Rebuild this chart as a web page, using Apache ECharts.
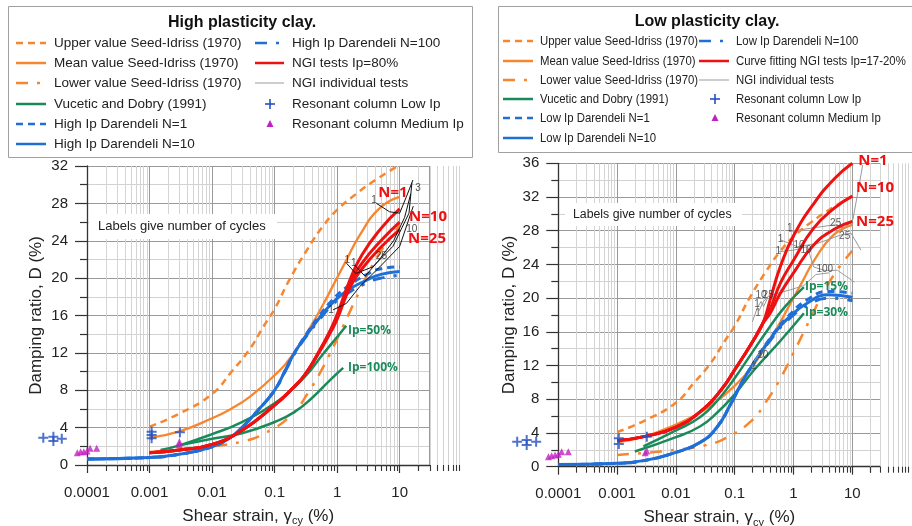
<!DOCTYPE html>
<html><head><meta charset="utf-8">
<script src="https://cdn.jsdelivr.net/npm/echarts@6/dist/echarts.min.js"></script>
<style>html,body{margin:0;padding:0;background:#fff}#c{width:912px;height:526px}</style>
</head><body><div id="c"></div>
<script>
// ================= DATA =================
const xTickLabels = ['0.0001', '0.001', '0.01', '0.1', '1', '10'];
const decades = [0.0001, 0.001, 0.01, 0.1, 1, 10];
const minorMultipliers = [2, 3, 4, 5, 6, 7, 8, 9];
const yMaxHigh = 32, yMaxLow = 36;

// Seed-Idriss (1970) – same in both panels
const siUpper = [[0.001,4.1],[0.003,5.5],[0.01,7.6],[0.02,9.9],[0.04,12.4],[0.066,14.8],[0.1,16.7],[0.175,19.9],[0.35,23.3],[0.6,25.6],[1,27.3],[2,29.0],[4.3,30.6],[10,32.1]];
const siMean  = [[0.001,2.9],[0.003,3.6],[0.01,5.0],[0.02,6.0],[0.04,7.3],[0.1,9.6],[0.2,11.9],[0.36,14.6],[0.6,17.2],[0.86,19.2],[1.4,21.9],[2.3,24.6],[4.8,27.5],[10,28.7]];
const siLower = [[0.001,1.4],[0.003,1.65],[0.01,2.0],[0.03,2.5],[0.07,3.4],[0.19,5.4],[0.34,7.7],[0.6,10.5],[1,13.5],[2,17.8],[3.3,20.8],[6,23.7],[10,25.6]];

// High plasticity clay
const hiVD50  = [[0.0015,1.6],[0.003,2.1],[0.01,3.3],[0.03,4.6],[0.1,6.6],[0.3,9.4],[0.6,11.9],[1,13.7],[1.4,14.9]];
const hiVD100 = [[0.003,2.1],[0.01,2.8],[0.03,3.4],[0.1,4.6],[0.2,5.6],[0.4,7.2],[0.8,9.2],[1.25,10.4]];
const hiDar1   = [[0.0001,0.64],[0.001,0.8],[0.003,1.15],[0.01,1.95],[0.02,3.0],[0.03,4.0],[0.05,5.6],[0.1,8.0],[0.15,10.2],[0.2,11.8],[0.3,13.7],[0.5,15.8],[0.8,17.5],[1.4,19.0],[3,20.4],[5,21.0],[10,21.2]];
const hiDar10  = [[0.0001,0.64],[0.001,0.8],[0.003,1.15],[0.01,1.95],[0.02,3.0],[0.03,4.0],[0.05,5.6],[0.1,8.0],[0.15,10.2],[0.2,11.8],[0.3,13.6],[0.5,15.6],[0.8,17.2],[1.4,18.6],[3,19.8],[5,20.4],[10,20.7]];
const hiDar100 = [[0.0001,0.64],[0.001,0.8],[0.003,1.15],[0.01,1.95],[0.02,3.0],[0.03,4.0],[0.05,5.6],[0.1,8.0],[0.15,10.1],[0.2,11.7],[0.3,13.5],[0.5,15.4],[0.8,17.0],[1.4,18.3],[3,19.5],[5,20.0],[10,20.3]];
const hiNGI1  = [[0.001,1.3],[0.003,1.6],[0.01,2.2],[0.03,3.7],[0.1,6.4],[0.2,8.3],[0.3,9.6],[0.5,12.0],[0.8,14.6],[1,16.1],[1.6,19.8],[2.5,22.5],[5,25.3],[10,27.4]];
const hiNGI10 = [[0.001,1.3],[0.003,1.6],[0.01,2.2],[0.03,3.7],[0.1,6.4],[0.2,8.3],[0.3,9.6],[0.5,12.0],[0.8,14.5],[1,15.9],[1.6,19.4],[2.5,21.6],[5,24.0],[10,26.0]];
const hiNGI25 = [[0.001,1.3],[0.003,1.6],[0.01,2.2],[0.03,3.7],[0.1,6.4],[0.2,8.3],[0.3,9.6],[0.5,11.9],[0.8,14.3],[1,15.6],[1.6,19.0],[2.5,21.0],[5,23.3],[10,25.2]];
const hiTest1 = [[4.25,28.0],[6.9,27.1],[10,26.95],[12.8,28.7],[16.3,30.5]];
const hiTest2 = [[1.41,21.6],[1.99,20.5],[3.7,21.2],[7.8,23.4],[14.1,26.95],[15.7,30.2]];
const hiTest3 = [[0.86,16.6],[1.41,17.3],[2.3,19.1],[4.8,21.2],[10,23.4],[16.5,27.7]];
const hiTest4 = [[1.9,21.4],[2.8,20.2],[4.5,21.8],[8,24.0],[12,26.5],[15,29.0]];
const hiCycleLabels = [[3.9,28.3,'1'],[19.6,29.6,'3'],[15.6,25.2,'10'],[5.1,22.3,'25'],[1.45,21.9,'1'],[1.85,21.6,'1'],[0.8,16.6,'1']];
const hiRCLow = [[2.0e-5,2.92],[2.9e-5,3.03],[2.9e-5,2.57],[3.95e-5,2.8],[0.00108,3.57],[0.00108,2.86],[0.00108,3.2],[0.00306,3.5]];
const hiRCMed = [[7.0e-5,1.32],[7.9e-5,1.42],[8.9e-5,1.42],[1.0e-4,1.5],[1.12e-4,1.78],[1.43e-4,1.78],[0.003,2.2],[0.003,2.5]];

// Low plasticity clay
const loVD15 = [[0.0028,2.4],[0.01,4.3],[0.026,5.9],[0.05,7.8],[0.095,10.3],[0.2,13.6],[0.36,16.2],[0.7,18.9],[1.5,21.3]];
const loVD30 = [[0.002,1.8],[0.01,3.5],[0.026,4.8],[0.05,6.4],[0.1,8.6],[0.215,11.5],[0.61,15.0],[1.5,18.2]];
const loDar1   = [[0.0001,0.25],[0.001,0.4],[0.003,0.75],[0.01,1.7],[0.026,2.9],[0.05,4.7],[0.085,7.4],[0.13,9.9],[0.21,12.3],[0.47,15.9],[0.8,17.8],[1.7,19.8],[4,20.8],[10,20.6]];
const loDar10  = [[0.0001,0.25],[0.001,0.4],[0.003,0.75],[0.01,1.7],[0.026,2.9],[0.05,4.7],[0.085,7.4],[0.13,9.9],[0.21,12.3],[0.47,15.8],[0.8,17.6],[1.7,19.4],[4,20.4],[10,20.1]];
const loDar100 = [[0.0001,0.25],[0.001,0.4],[0.003,0.75],[0.01,1.7],[0.026,2.9],[0.05,4.7],[0.085,7.4],[0.13,9.9],[0.21,12.2],[0.47,15.6],[0.8,17.4],[1.7,19.1],[4,20.0],[10,19.7]];
const loNGI1  = [[0.001,3.1],[0.003,3.6],[0.01,4.7],[0.03,6.9],[0.06,9.2],[0.1,11.5],[0.2,14.8],[0.3,17.0],[0.4,19.8],[0.6,23.8],[1,27.4],[2.2,31.2],[5,34.2],[10,36.0]];
const loNGI10 = [[0.001,3.1],[0.003,3.6],[0.01,4.7],[0.03,6.9],[0.06,9.2],[0.1,11.5],[0.2,14.8],[0.3,17.0],[0.4,18.7],[0.6,21.8],[1,24.5],[2.2,28.3],[5,30.7],[10,32.1]];
const loNGI25 = [[0.001,3.1],[0.003,3.6],[0.01,4.7],[0.03,6.9],[0.06,9.2],[0.1,11.5],[0.2,14.8],[0.3,17.0],[0.4,18.2],[0.6,20.6],[1,23.0],[2.2,26.3],[5,28.2],[10,29.1]];
const loTest1 = [[0.84,27.9],[1.97,28.3],[4.9,28.7],[7.3,28.3],[10.2,29.3],[13.2,33.6],[15,35.8]];
const loTest2 = [[0.61,26.9],[1.17,26.1],[2.57,26.5],[6.4,27.5],[9.5,27.7],[14,25.7]];
const loTest3 = [[0.57,25.5],[1.02,25.7],[1.71,26.1],[2.2,23.7],[3.3,23.3],[5.6,23.3],[10.9,21.9]];
const loTest4 = [[0.26,18.5],[0.3,19.5],[0.38,20.3],[0.55,20.6],[0.9,21.0],[1.5,21.5],[2.4,22.8],[4,23.0]];
const loTest5 = [[0.2,17.2],[0.24,18.8],[0.28,19.6],[0.31,19.0],[0.36,20.0]];
const loTest6 = [[0.19,11.3],[0.22,12.6],[0.26,13.4],[0.3,13.0],[0.33,14.0]];
const loCycleLabels = [[0.86,28.3,'1'],[0.6,27.0,'1'],[0.55,25.6,'1'],[1.24,26.3,'10'],[1.63,25.7,'10'],[5.2,28.9,'25'],[7.4,27.4,'25'],[3.4,23.4,'100'],[0.28,20.3,'10'],[0.37,20.3,'25'],[0.24,19.3,'1'],[0.25,18.2,'1'],[0.21,11.9,'1'],[0.3,13.2,'10']];
const loRCLow = [[2.0e-5,2.97],[2.9e-5,3.17],[2.9e-5,2.57],[4.2e-5,2.97],[0.00107,3.37],[0.00107,2.69],[0.0032,3.56]];
const loRCMed = [[6.8e-5,1.19],[7.7e-5,1.3],[8.8e-5,1.39],[1.0e-4,1.47],[1.14e-4,1.78],[1.48e-4,1.78],[0.003,1.65],[0.0032,1.85]];

// legend texts
const legHighCol1 = ['Upper value Seed-Idriss (1970)','Mean value Seed-Idriss (1970)','Lower value Seed-Idriss (1970)','Vucetic and Dobry (1991)','High Ip Darendeli N=1','High Ip Darendeli N=10'];
const legHighCol2 = ['High Ip Darendeli N=100','NGI tests Ip=80%','NGI individual tests','Resonant column Low Ip','Resonant column Medium Ip'];
const legLowCol1 = ['Upper value Seed-Idriss (1970)','Mean value Seed-Idriss (1970)','Lower value Seed-Idriss (1970)','Vucetic and Dobry (1991)','Low Ip Darendeli N=1','Low Ip Darendeli N=10'];
const legLowCol2 = ['Low Ip Darendeli N=100','Curve fitting NGI tests Ip=17-20%','NGI individual tests','Resonant column Low Ip','Resonant column Medium Ip'];

// ================= STYLE =================
const FONT = "'Liberation Sans', Arial, sans-serif";
const ORANGE = '#F7862F', GREEN = '#1B8A5A', BLUE = '#1F6FD6', RED = '#EE1111';
const PLUS = '#2450C0', MAG = '#C21FC2', GREY = '#9a9a9a';
const DASH = [7, 5], DASHDOT = [12, 9, 3, 9];
const plusPath = 'path://M4,0h2v4h4v2h-4v4h-2v-4h-4v-2h4z';

const minorVals = [];
decades.forEach(d => minorMultipliers.forEach(m => minorVals.push([d * m, 0])));
minorVals.push([20, 0]);

function fmtX(v) {
  const i = decades.findIndex(d => Math.abs(Math.log10(d) - Math.log10(v)) < 1e-6);
  return i >= 0 ? xTickLabels[i] : '';
}

function xAxis(gi) {
  return {
    type: 'log', logBase: 10, gridIndex: gi, min: 0.0001, max: 30,
    axisLine: { onZero: false, lineStyle: { color: '#333', width: 1.3 } },
    axisTick: { show: true, length: 8, lineStyle: { color: '#333', width: 1.2 } },
    axisLabel: { formatter: fmtX, fontSize: 15, color: '#222', margin: 20, fontFamily: FONT, showMaxLabel: false },
    splitLine: { show: true, lineStyle: { color: '#9a9a9a', width: 1 } },
    name: 'Shear strain, {g|γ}{s|cy} (%)', nameLocation: 'middle', nameGap: 36,
    nameTextStyle: { fontSize: 17, color: '#222', fontFamily: FONT, lineHeight: 22,
      rich: { g: { fontSize: 17, fontFamily: FONT, color: '#222', lineHeight: 22 },
              s: { fontSize: 11, fontFamily: FONT, color: '#222', verticalAlign: 'bottom', lineHeight: 12 } } }
  };
}
function yAxis(gi, max, gap) {
  return {
    type: 'value', gridIndex: gi, min: 0, max: max, interval: 4,
    axisLine: { show: true, onZero: false, lineStyle: { color: '#333', width: 1.3 } },
    axisTick: { show: true, length: 12, lineStyle: { color: '#333', width: 1.2 } },
    minorTick: { show: true, splitNumber: 2, length: 7, lineStyle: { color: '#333', width: 1.2 } },
    minorSplitLine: { show: true, lineStyle: { color: '#d2d2d2', width: 1 } },
    splitLine: { show: true, lineStyle: { color: '#9a9a9a', width: 1 } },
    axisLabel: { fontSize: 15, color: '#222', margin: 19, fontFamily: FONT },
    name: 'Damping ratio, D (%)', nameLocation: 'middle', nameGap: gap, nameRotate: 90,
    nameTextStyle: { fontSize: 17, color: '#222', fontFamily: FONT }
  };
}
function minorGrid(gi, yMax) {
  return {
    type: 'custom', xAxisIndex: gi, yAxisIndex: gi, z: 1, silent: true, clip: false,
    data: minorVals, encode: { x: 0, y: 1 },
    renderItem: function (params, api) {
      const v = api.value(0);
      const a = api.coord([v, 0]), b = api.coord([v, yMax]);
      const x = Math.round(a[0]) + 0.5;
      return { type: 'group', children: [
        { type: 'line', shape: { x1: x, y1: a[1], x2: x, y2: b[1] }, style: { stroke: '#d4d4d4', lineWidth: 1 } },
        { type: 'line', shape: { x1: x, y1: a[1], x2: x, y2: a[1] + 6 }, style: { stroke: '#333', lineWidth: 1.1 } }
      ] };
    }
  };
}
function line(gi, name, data, color, width, dash) {
  return {
    type: 'line', name: name, xAxisIndex: gi, yAxisIndex: gi, data: data,
    showSymbol: false, symbol: 'none', silent: true,
    smooth: 0.5,
    lineStyle: { color: color, width: width, type: dash || 'solid', cap: 'butt', join: 'round' }
  };
}
function testLine(gi, data, color) {
  return { type: 'line', name: 'NGI individual tests', xAxisIndex: gi, yAxisIndex: gi, data: data,
    showSymbol: false, symbol: 'none', silent: true, smooth: false,
    lineStyle: { color: color, width: 1 } };
}
function cycLabels(gi, data, color) {
  return { type: 'scatter', xAxisIndex: gi, yAxisIndex: gi, data: data, symbolSize: 0, silent: true, z: 6,
    encode: { x: 0, y: 1 },
    label: { show: true, position: 'inside', formatter: p => p.value[2], fontSize: 10, color: color, fontFamily: FONT } };
}
function scat(gi, name, data, symbol, size, color) {
  return { type: 'scatter', name: name, xAxisIndex: gi, yAxisIndex: gi, data: data, clip: false,
    symbol: symbol, symbolSize: size, itemStyle: { color: color }, z: 7, silent: true };
}

// ================= GRAPHIC (legends, annotations) =================
const G = [];
function txt(x, y, text, o) {
  o = o || {};
  G.push({ type: 'text', x: x, y: y, z: 101, silent: true, scaleX: o.sx || 1, style: {
    text: text, fontSize: o.size || 13.5, fontFamily: o.font || FONT, fontWeight: o.weight || 'normal',
    fill: o.color || '#222', align: o.align || 'left', verticalAlign: 'middle' } });
}
function sample(x1, x2, y, color, width, dash) {
  G.push({ type: 'line', z: 101, silent: true, shape: { x1: x1, y1: y, x2: x2, y2: y },
    style: { stroke: color, lineWidth: width, lineDash: dash || null } });
}
function plusMark(x, y, c) {
  G.push({ type: 'line', z: 101, silent: true, shape: { x1: x - 5, y1: y, x2: x + 5, y2: y }, style: { stroke: c, lineWidth: 1.6 } });
  G.push({ type: 'line', z: 101, silent: true, shape: { x1: x, y1: y - 5, x2: x, y2: y + 5 }, style: { stroke: c, lineWidth: 1.6 } });
}
function triMark(x, y, c) {
  G.push({ type: 'polygon', z: 101, silent: true, shape: { points: [[x, y - 4], [x - 3.5, y + 3], [x + 3.5, y + 3]] }, style: { fill: c } });
}
function box(x, y, w, h, stroke, z) {
  G.push({ type: 'rect', z: z || 100, silent: true, shape: { x: x, y: y, width: w, height: h },
    style: { fill: '#fff', stroke: stroke, lineWidth: 1 } });
}
// left legend
box(8.5, 6.5, 464, 151, '#a0a0a0');
txt(242, 23, 'High plasticity clay.', { size: 16, weight: 'bold', align: 'center', color: '#111' });
const rowsL = [43, 63, 83, 104, 124, 144];
const c1styles = [[ORANGE, 2.5, DASH], [ORANGE, 2.5, null], [ORANGE, 2.5, DASHDOT], [GREEN, 2.5, null], [BLUE, 2.5, DASH], [BLUE, 2.5, null]];
legHighCol1.forEach((t, i) => { sample(16, 46, rowsL[i], c1styles[i][0], c1styles[i][1], c1styles[i][2]); txt(54, rowsL[i], t); });
const c2stylesH = [[BLUE, 2.5, DASHDOT], [RED, 2.5, null], ['#bdbdbd', 1.5, null]];
legHighCol2.forEach((t, i) => { if (i < 3) sample(255, 284, rowsL[i], c2stylesH[i][0], c2stylesH[i][1], c2stylesH[i][2]); txt(292, rowsL[i], t); });
plusMark(270, rowsL[3], PLUS); triMark(270, rowsL[4], MAG);

// right legend
box(498.5, 6.5, 420, 146, '#a0a0a0');
txt(707, 22, 'Low plasticity clay.', { size: 16, weight: 'bold', align: 'center', color: '#111' });
const rowsR = [41, 61, 80, 99, 118, 138];
const RF = { size: 13, sx: 0.875 };
legLowCol1.forEach((t, i) => { sample(503, 533, rowsR[i], c1styles[i][0], c1styles[i][1], c1styles[i][2]); txt(540, rowsR[i], t, RF); });
legLowCol2.forEach((t, i) => { if (i < 3) sample(699, 729, rowsR[i], c2stylesH[i][0], c2stylesH[i][1], c2stylesH[i][2]); txt(736, rowsR[i], t, RF); });
plusMark(715, rowsR[3], PLUS); triMark(715, rowsR[4], MAG);

// "Labels give number of cycles" notes
G.push({ type: 'rect', z: 3, silent: true, shape: { x: 89, y: 214, width: 188, height: 25 }, style: { fill: '#fff' } });
txt(98, 226.5, 'Labels give number of cycles', { size: 13 });
G.push({ type: 'rect', z: 3, silent: true, shape: { x: 565, y: 203, width: 177, height: 23 }, style: { fill: '#fff' } });
txt(573, 214.5, 'Labels give number of cycles', { size: 12.3 });

// curve labels
const NF = "'Open Sans', 'Liberation Sans', sans-serif";
txt(393, 193, 'N=1', { size: 15, weight: 'bold', color: RED, font: NF, align: 'center' });
txt(428, 217, 'N=10', { size: 15, weight: 'bold', color: RED, font: NF, align: 'center' });
txt(427, 239, 'N=25', { size: 15, weight: 'bold', color: RED, font: NF, align: 'center' });
txt(348, 331, 'Ip=50%', { size: 12, weight: 'bold', color: GREEN, font: NF });
txt(348, 368, 'Ip=100%', { size: 12, weight: 'bold', color: GREEN, font: NF });
txt(873, 161, 'N=1', { size: 15, weight: 'bold', color: RED, font: NF, align: 'center' });
txt(875, 188, 'N=10', { size: 15, weight: 'bold', color: RED, font: NF, align: 'center' });
txt(875, 222, 'N=25', { size: 15, weight: 'bold', color: RED, font: NF, align: 'center' });
txt(805, 287, 'Ip=15%', { size: 12, weight: 'bold', color: GREEN, font: NF });
txt(805, 313, 'Ip=30%', { size: 12, weight: 'bold', color: GREEN, font: NF });

// ================= CHART =================
const series = [
  minorGrid(0, yMaxHigh), minorGrid(1, yMaxLow),
  // high plasticity
  line(0, 'Upper value Seed-Idriss (1970)', siUpper, ORANGE, 2.5, DASH),
  line(0, 'Mean value Seed-Idriss (1970)', siMean, ORANGE, 2.3),
  line(0, 'Lower value Seed-Idriss (1970)', siLower, ORANGE, 2.5, DASHDOT),
  line(0, 'Vucetic and Dobry (1991) Ip=50%', hiVD50, GREEN, 2.5),
  line(0, 'Vucetic and Dobry (1991) Ip=100%', hiVD100, GREEN, 2.5),
  line(0, 'High Ip Darendeli N=100', hiDar100, BLUE, 3, DASHDOT),
  line(0, 'High Ip Darendeli N=1', hiDar1, BLUE, 3, DASH),
  line(0, 'High Ip Darendeli N=10', hiDar10, BLUE, 3),
  line(0, 'NGI tests N=25', hiNGI25, RED, 3),
  line(0, 'NGI tests N=10', hiNGI10, RED, 3),
  line(0, 'NGI tests N=1', hiNGI1, RED, 3),
  testLine(0, hiTest1, '#111'), testLine(0, hiTest2, '#111'), testLine(0, hiTest3, '#111'), testLine(0, hiTest4, '#111'),
  cycLabels(0, hiCycleLabels, '#222'),
  scat(0, 'Resonant column Low Ip', hiRCLow, plusPath, 10, PLUS),
  scat(0, 'Resonant column Medium Ip', hiRCMed, 'triangle', 7, MAG),
  // low plasticity
  line(1, 'Upper value Seed-Idriss (1970)', siUpper, ORANGE, 2.5, DASH),
  line(1, 'Mean value Seed-Idriss (1970)', siMean, ORANGE, 2.3),
  line(1, 'Lower value Seed-Idriss (1970)', siLower, ORANGE, 2.5, DASHDOT),
  line(1, 'Vucetic and Dobry (1991) Ip=15%', loVD15, GREEN, 2.5),
  line(1, 'Vucetic and Dobry (1991) Ip=30%', loVD30, GREEN, 2.5),
  line(1, 'Low Ip Darendeli N=100', loDar100, BLUE, 3, DASHDOT),
  line(1, 'Low Ip Darendeli N=1', loDar1, BLUE, 3, DASH),
  line(1, 'Low Ip Darendeli N=10', loDar10, BLUE, 3),
  testLine(1, loTest1, GREY), testLine(1, loTest2, GREY), testLine(1, loTest3, GREY),
  testLine(1, loTest4, GREY), testLine(1, loTest5, GREY), testLine(1, loTest6, GREY),
  line(1, 'Curve fitting N=25', loNGI25, RED, 3),
  line(1, 'Curve fitting N=10', loNGI10, RED, 3),
  line(1, 'Curve fitting N=1', loNGI1, RED, 3),
  cycLabels(1, loCycleLabels, '#333'),
  scat(1, 'Resonant column Low Ip', loRCLow, plusPath, 10, PLUS),
  scat(1, 'Resonant column Medium Ip', loRCMed, 'triangle', 7, MAG)
];

const chart = echarts.init(document.getElementById('c'), null, { renderer: 'canvas' });
chart.setOption({
  animation: false,
  backgroundColor: '#fff',
  grid: [
    { left: 87, right: 482.5, top: 166, bottom: 61, containLabel: false, outerBoundsMode: 'none' },
    { left: 558.3, right: 31.6, top: 163.3, bottom: 59.3, containLabel: false, outerBoundsMode: 'none' }
  ],
  xAxis: [xAxis(0), xAxis(1)],
  yAxis: [yAxis(0, yMaxHigh, 42), yAxis(1, yMaxLow, 40)],
  series: series,
  graphic: G
});
</script></body></html>
